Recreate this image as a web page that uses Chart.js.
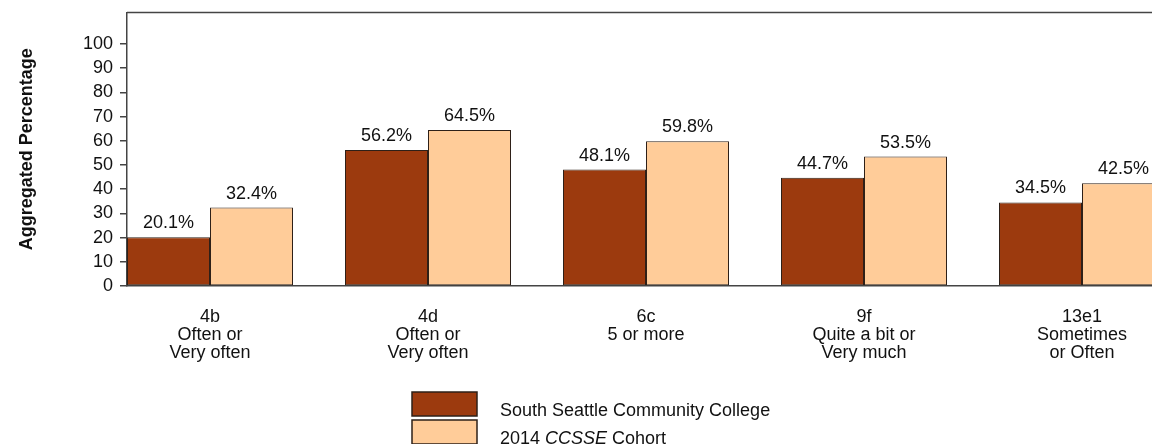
<!DOCTYPE html>
<html>
<head>
<meta charset="utf-8">
<script src="https://cdn.jsdelivr.net/npm/chart.js@4.4.1/dist/chart.umd.min.js"></script>
<style>
  html, body { margin: 0; padding: 0; background: #fff; overflow: hidden; }
  #wrap { position: relative; width: 1152px; height: 444px; }
</style>
</head>
<body>
<div id="wrap"><canvas id="chart" width="1152" height="444"></canvas></div>
<script>
// categories (multi-line tick labels)
const categories = [
  ['4b', 'Often or', 'Very often'],
  ['4d', 'Often or', 'Very often'],
  ['6c', '5 or more'],
  ['9f', 'Quite a bit or', 'Very much'],
  ['13e1', 'Sometimes', 'or Often'],
];

const collegeValues = [20.1, 56.2, 48.1, 44.7, 34.5];
const cohortValues  = [32.4, 64.5, 59.8, 53.5, 42.5];

const yTicks = [0, 10, 20, 30, 40, 50, 60, 70, 80, 90, 100];

// legend text, second one has the italic CCSSE
const legendLabels = [
  [{ t: 'South Seattle Community College' }],
  [{ t: '2014 ' }, { t: 'CCSSE', italic: true }, { t: ' Cohort' }],
];

const FONT = "'Liberation Sans', Arial, sans-serif";
const COLORS = ['#9c3a0e', '#ffcc99'];
const EDGE = '#2e2018';
const AXIS = '#444444';

/** value labels above each bar */
const valueLabels = {
  id: 'valueLabels',
  afterDatasetsDraw(chart) {
    const ctx = chart.ctx;
    ctx.save();
    ctx.font = '18px ' + FONT;
    ctx.fillStyle = '#111';
    ctx.textAlign = 'center';
    ctx.textBaseline = 'alphabetic';
    chart.data.datasets.forEach((ds, di) => {
      chart.getDatasetMeta(di).data.forEach((bar, i) => {
        ctx.fillText(ds.data[i].y.toFixed(1) + '%', bar.x, bar.y - 9);
      });
    });
    ctx.restore();
  },
};

/** top frame line + legend below the plot */
const frameAndLegend = {
  id: 'frameAndLegend',
  afterDraw(chart) {
    const ctx = chart.ctx;
    const { left, right, top } = chart.chartArea;
    ctx.save();
    ctx.strokeStyle = AXIS;
    ctx.lineWidth = 1.5;
    ctx.beginPath();
    ctx.moveTo(left, top);
    ctx.lineTo(right, top);
    ctx.stroke();

    chart.data.datasets.forEach((ds, i) => {
      const bx = 412, by = 392 + i * 28;
      ctx.fillStyle = ds.backgroundColor;
      ctx.fillRect(bx, by, 65, 24);
      ctx.strokeStyle = EDGE;
      ctx.lineWidth = 1.5;
      ctx.strokeRect(bx, by, 65, 24);

      let tx = 500;
      ctx.fillStyle = '#111';
      ctx.textAlign = 'left';
      ctx.textBaseline = 'alphabetic';
      legendLabels[i].forEach(part => {
        ctx.font = (part.italic ? 'italic ' : '') + '18px ' + FONT;
        ctx.fillText(part.t, tx, by + 24);
        tx += ctx.measureText(part.t).width;
      });
    });
    ctx.restore();
  },
};

new Chart(document.getElementById('chart'), {
  type: 'bar',
  data: {
    datasets: [
      {
        label: 'South Seattle Community College',
        data: collegeValues.map((v, i) => ({ x: i, y: v })),
        backgroundColor: COLORS[0],
      },
      {
        label: '2014 CCSSE Cohort',
        data: cohortValues.map((v, i) => ({ x: i, y: v })),
        backgroundColor: COLORS[1],
      },
    ],
  },
  options: {
    responsive: false,
    animation: false,
    layout: { padding: { left: 0, right: 0, top: 12.5, bottom: 0 } },
    datasets: {
      bar: {
        borderColor: EDGE,
        borderWidth: 1,
        borderSkipped: false,
        categoryPercentage: 166 / 218,
        barPercentage: 1,
      },
    },
    plugins: {
      legend: { display: false },
      tooltip: { enabled: false },
    },
    scales: {
      x: {
        type: 'linear',
        offset: false,
        min: -83 / 218,
        max: 4 + 70 / 218,
        grid: { display: false },
        border: { display: true, color: AXIS, width: 1.5 },
        afterBuildTicks: s => { s.ticks = categories.map((_, i) => ({ value: i })); },
        afterFit: s => { s.height = 158; s.paddingLeft = 0; s.paddingRight = 0; },
        ticks: {
          autoSkip: false,
          maxRotation: 0,
          padding: 14,
          color: '#111',
          font: { family: FONT, size: 18, lineHeight: 1.0 },
          callback: v => categories[v],
        },
      },
      y: {
        min: 0,
        max: 113,
        grid: {
          display: true,
          drawOnChartArea: false,
          drawTicks: true,
          tickLength: 7,
          color: AXIS,
          lineWidth: 1.5,
        },
        border: { display: true, color: AXIS, width: 1.5 },
        afterBuildTicks: s => { s.ticks = yTicks.map(v => ({ value: v })); },
        afterFit: s => { s.width = 127; s.paddingTop = 0; s.paddingBottom = 0; },
        ticks: {
          padding: 7,
          color: '#111',
          font: { family: FONT, size: 18 },
        },
        title: {
          display: true,
          text: 'Aggregated Percentage',
          color: '#111',
          font: { family: FONT, size: 18, weight: 'bold' },
          padding: { top: 16, bottom: 0 },
        },
      },
    },
  },
  plugins: [valueLabels, frameAndLegend],
});
</script>
</body>
</html>
